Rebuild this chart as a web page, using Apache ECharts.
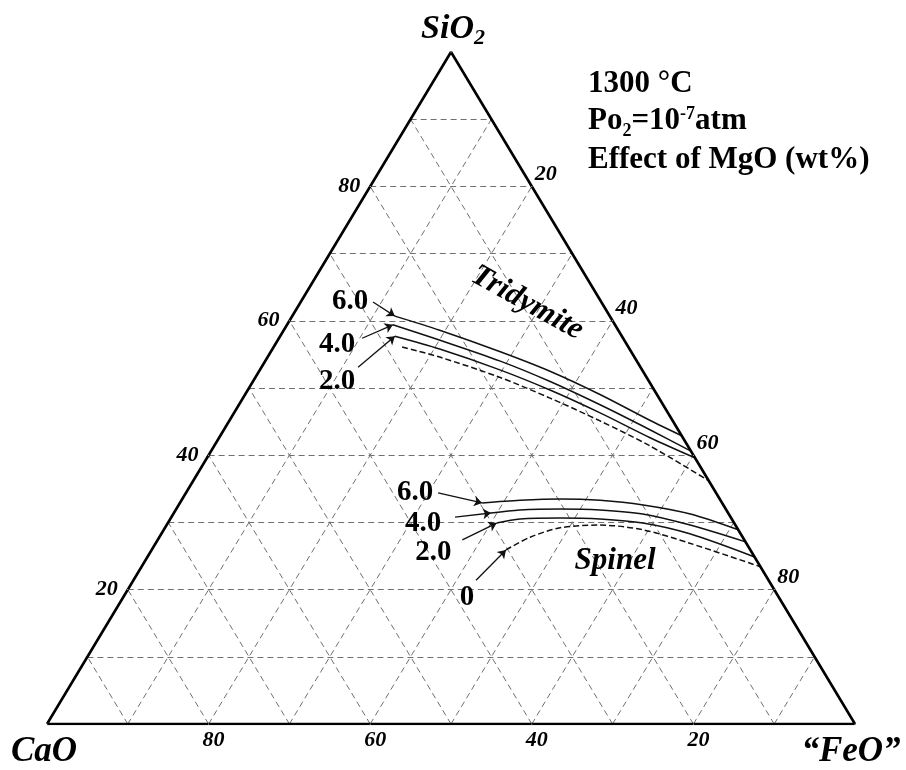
<!DOCTYPE html>
<html><head><meta charset="utf-8">
<script src="https://cdn.jsdelivr.net/npm/echarts@6/dist/echarts.min.js"></script>
<style>html,body{margin:0;padding:0;background:#fff}#c{width:906px;height:770px}</style>
</head><body><div id="c"></div>
<script>
// ---- data (compositions as [SiO2 wt%, FeO wt%]; CaO = 100 - SiO2 - FeO) ----
const gridTicks = [10, 20, 30, 40, 50, 60, 70, 80, 90];
const labelTicks = [20, 40, 60, 80];

// Tridymite saturation boundaries
const trid6 = [[60.7,12.7],[58.6,19.3],[55.4,28.4],[52.5,36.0],[49.0,44.0],[45.2,52.0],[42.9,57.1]];
const trid4 = [[59.4,13.1],[57.1,20.1],[54.0,29.1],[51.0,36.7],[47.5,44.7],[43.75,52.8],[40.6,59.4]];
const trid2 = [[57.7,14.2],[55.8,20.7],[52.7,29.7],[49.7,37.4],[46.3,45.3],[42.6,53.35],[39.6,60.4]];
const trid0 = [[56.1,15.9],[54.6,21.3],[51.6,30.2],[48.5,38.0],[45.1,45.9],[41.4,53.9],[36.2,63.8]];

// Spinel saturation boundaries
const spin6 = [[32.9,37.4],[33.3,41.9],[33.5,46.75],[33.3,51.8],[32.6,57.5],[31.25,64.0],[28.9,71.1]];
const spin4 = [[31.4,39.25],[31.85,42.6],[32.0,47.5],[31.85,52.5],[31.25,58.1],[29.6,64.8],[27.1,72.9]];
const spin2 = [[29.9,40.7],[30.5,43.3],[30.65,48.2],[30.5,53.2],[29.9,58.8],[28.3,65.4],[24.85,75.15]];
const spin0 = [[25.9,43.85],[27.8,45.9],[29.2,48.9],[29.6,53.6],[28.9,59.3],[26.9,66.1],[23.4,76.6]];

// MgO annotations: text, label anchor, arrow tail (arrow head = start of curve)
const annoText  = ['6.0','4.0','2.0','6.0','4.0','2.0','0'];
const annoLabel = [[62.8,6.1],[56.4,7.7],[51.0,10.4],[34.5,28.3],[29.9,31.6],[25.45,35.1],[18.75,42.6]];
const annoTail  = [[62.8,8.95],[57.4,10.3],[53.1,11.95],[34.4,31.2],[30.8,35.1],[27.4,37.7],[21.4,42.4]];
const annoCurve = [trid6, trid4, trid2, spin6, spin4, spin2, spin0];

const phaseNames = ['Tridymite', 'Spinel'];
const phasePos = [[62.65,28.1],[24.4,58.1]];

// ---- helpers ----
const toXY = p => [p[1] + p[0] / 2, p[0]];
const SERIF = '"Liberation Serif","Times New Roman",serif';

const gridSegs = [];
gridTicks.forEach(k => {
  gridSegs.push({coords: [toXY([k, 0]), toXY([k, 100 - k])]});           // SiO2 = k
  gridSegs.push({coords: [toXY([0, k]), toXY([100 - k, k])]});           // FeO = k
  gridSegs.push({coords: [toXY([0, 100 - k]), toXY([100 - k, 0])]});     // CaO = k
});

function curve(data, dashed) {
  return {
    type: 'line', data: data.map(toXY), symbol: 'none', smooth: 0.3, z: 4,
    lineStyle: {color: '#111', width: 1.5, type: dashed ? [6, 3] : 'solid'}
  };
}

function labelSeries(points, texts, fontStyle, size, offset, rotate) {
  return {
    type: 'scatter', symbolSize: 1, itemStyle: {color: '#fff', opacity: 1}, z: 6, silent: true,
    data: points.map((p, i) => ({value: toXY(p), name: texts[i]})),
    label: {
      show: true, position: 'inside', formatter: '{b}', color: '#000', opacity: 1,
      textBorderWidth: 0, rotate: rotate || 0,
      fontFamily: SERIF, fontWeight: 'bold', fontStyle: fontStyle, fontSize: size, offset: offset
    }
  };
}

const series = [
  {type: 'lines', coordinateSystem: 'cartesian2d', polyline: false, silent: true, z: 1,
   lineStyle: {color: '#707070', width: 1, type: [6, 4], opacity: 1}, data: gridSegs},
  {type: 'line', data: [[0,0],[100,0],[0,100],[0,0]].map(toXY), symbol: 'none', z: 5,
   lineStyle: {color: '#000', width: 2.6}},
  curve(trid6), curve(trid4), curve(trid2), curve(trid0, true),
  curve(spin6), curve(spin4), curve(spin2), curve(spin0, true),
  {type: 'lines', coordinateSystem: 'cartesian2d', z: 5, silent: true,
   symbol: ['none', 'arrow'], symbolSize: 8,
   lineStyle: {color: '#111', width: 1.3, opacity: 1},
   data: annoTail.map((t, i) => ({coords: [toXY(t), toXY(annoCurve[i][0])]}))},
  labelSeries(annoLabel, annoText, 'normal', 29, [0, 0]),
  labelSeries([phasePos[0]], [phaseNames[0]], 'italic', 31, [0, 0], -29),
  labelSeries([phasePos[1]], [phaseNames[1]], 'italic', 31, [0, 1]),
  // tick labels
  labelSeries(labelTicks.map(k => [k, 0]), labelTicks.map(String), 'italic', 22, [-21, 0]),
  labelSeries(labelTicks.map(k => [100 - k, k]), labelTicks.map(String), 'italic', 22, [14, -12]),
  labelSeries(labelTicks.map(k => [0, 100 - k]), labelTicks.map(String), 'italic', 22, [5, 16]),
  // corner labels
  labelSeries([[0, 0]], ['CaO'], 'italic', 35, [-3, 28]),
  labelSeries([[0, 100]], ['\u201cFeO\u201d'], 'italic', 35, [-4, 28]),
  {type: 'scatter', symbolSize: 1, itemStyle: {color: '#fff', opacity: 1}, z: 6, silent: true,
   data: [{value: toXY([100, 0]), name: 'SiO2'}],
   label: {show: true, position: 'inside', offset: [2, -23], formatter: '{a|SiO}{s|2}', opacity: 1,
     rich: {
       a: {fontFamily: SERIF, fontWeight: 'bold', fontStyle: 'italic', fontSize: 34, color: '#000', lineHeight: 40},
       s: {fontFamily: SERIF, fontWeight: 'bold', fontStyle: 'italic', fontSize: 22, color: '#000', lineHeight: 40, verticalAlign: 'bottom'}
     }}}
];

const hdr = {fontFamily: SERIF, fontWeight: 'bold', fontSize: 31, color: '#000', lineHeight: 38};
const chart = echarts.init(document.getElementById('c'), null, {renderer: 'canvas'});
chart.setOption({
  animation: false,
  backgroundColor: '#fff',
  grid: {left: 47, right: 51, top: 52, bottom: 46, show: false},
  xAxis: {type: 'value', min: 0, max: 100, show: false},
  yAxis: {type: 'value', min: 0, max: 100, show: false},
  graphic: [
    {type: 'text', left: 588, top: 68, z: 10, style: {text: '1300 \u00b0C', font: 'bold 31px ' + SERIF, fill: '#000'}},
    {type: 'text', left: 588, top: 102, z: 10, style: {
      text: '{a|Po}{b|2}{a|=10}{c|-7}{a|atm}',
      rich: {
        a: Object.assign({}, hdr),
        b: {fontFamily: SERIF, fontWeight: 'bold', fontSize: 18, color: '#000', lineHeight: 38, verticalAlign: 'bottom'},
        c: {fontFamily: SERIF, fontWeight: 'bold', fontSize: 18, color: '#000', lineHeight: 38, verticalAlign: 'top', padding: [3, 0, 0, 0]}
      }}},
    {type: 'text', left: 588, top: 144, z: 10, style: {text: 'Effect of MgO (wt%)', font: 'bold 31px ' + SERIF, fill: '#000'}}
  ],
  series: series
});
</script>
</body></html>
